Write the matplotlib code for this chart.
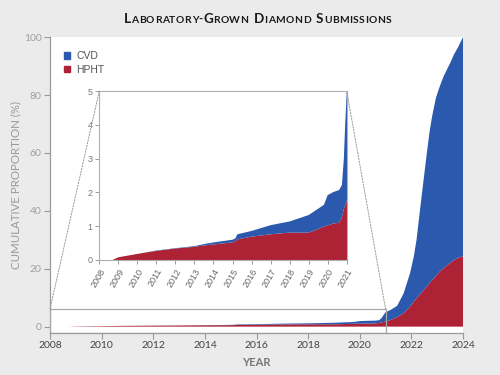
import matplotlib.pyplot as plt
from matplotlib.patches import Patch, Rectangle, ConnectionPatch
from matplotlib.offsetbox import TextArea, HPacker, AnchoredOffsetbox

# cumulative proportion (%)
years = [2008.0, 2008.7, 2009.0, 2010.0, 2011.0, 2012.0, 2013.0, 2013.5, 2014.0,
         2015.0, 2015.15, 2015.25, 2016.0, 2017.0, 2018.0, 2019.0, 2019.4, 2019.8,
         2020.0, 2020.3, 2020.6, 2020.75, 2020.85, 2020.92, 2021.0, 2021.2, 2021.45,
         2021.7, 2021.95, 2022.1, 2022.2, 2022.35, 2022.45, 2022.6, 2022.7, 2022.8,
         2022.95, 2023.1, 2023.25, 2023.5, 2023.65, 2023.82, 2024.0]
hpht = [0, 0, 0.08, 0.18, 0.27, 0.34, 0.39, 0.43, 0.46,
        0.52, 0.55, 0.61, 0.69, 0.76, 0.81, 0.81, 0.89, 0.99,
        1.02, 1.08, 1.10, 1.28, 1.50, 1.62, 1.73, 2.3, 3.3,
        4.6, 6.9, 8.7, 9.8, 11.3, 12.4, 13.8, 15.0, 16.0,
        17.5, 19.0, 20.2, 22.0, 23.0, 23.8, 24.3]
cvd = [0, 0, 0.0, 0.0, 0.01, 0.01, 0.02, 0.04, 0.06,
       0.08, 0.09, 0.15, 0.17, 0.27, 0.33, 0.52, 0.59, 0.64,
       0.90, 0.93, 0.97, 0.94, 1.50, 2.38, 3.22, 3.5, 3.9,
       6.9, 11.6, 15.8, 20.2, 30.2, 36.6, 46.2, 52.0, 56.5,
       61.5, 64.0, 66.3, 69.0, 71.0, 72.9, 75.7]
main_xticks = list(range(2008, 2025, 2))
main_yticks = [0, 20, 40, 60, 80, 100]
inset_xticks = list(range(2008, 2022))
inset_yticks = [0, 1, 2, 3, 4, 5]

blue = '#2a59ad'
red = '#ad2234'
grey = '#9a9a9a'

fig = plt.figure(figsize=(5, 3.75), dpi=100, facecolor='#ebebeb')
ax = fig.add_axes([0.1, 0.112, 0.826, 0.789])
ax.stackplot(years, hpht, cvd, colors=[red, blue], lw=0)
ax.set_xlim(2008, 2024)
ax.set_ylim(-2.2, 100)
ax.set_xticks(main_xticks)
ax.set_yticks(main_yticks)
ax.set_xticklabels([str(t) for t in main_xticks], fontsize=7.5, color='#444444', family='Lato')
ax.set_yticklabels([str(t) for t in main_yticks], fontsize=7.5, color='#a0a0a0', family='Lato')
ax.tick_params(length=4, width=0.8, color=grey, pad=2)
for s in ['top', 'right']:
    ax.spines[s].set_visible(False)
for s in ['left', 'bottom']:
    ax.spines[s].set_color(grey)
    ax.spines[s].set_linewidth(0.9)
ax.set_xlabel('YEAR', fontsize=8, color='#777777', family='Lato', fontweight='bold', labelpad=5)
ax.set_ylabel('CUMULATIVE PROPORTION (%)', fontsize=8.3, color='#999999', family='Lato', labelpad=2)

ax.add_patch(Rectangle((2008, -2.2), 13, 8.3, fill=False, ec='#a8a8a8', lw=0.9, zorder=3))

leg = ax.legend(handles=[Patch(color=blue, label='CVD'), Patch(color=red, label='HPHT')],
                loc='upper left', bbox_to_anchor=(0.01, 0.985), frameon=False,
                handlelength=0.6, handleheight=0.6, handletextpad=0.6, labelspacing=0.35,
                prop={'family': 'Liberation Sans', 'size': 7.5})
for t in leg.get_texts():
    t.set_color('#555555')

# inset zoom on 2008-2021
ins = fig.add_axes([0.1986, 0.3067, 0.4948, 0.4506])
ins.stackplot(years, hpht, cvd, colors=[red, blue], lw=0)
ins.set_xlim(2008, 2021)
ins.set_ylim(0, 5)
ins.set_xticks(inset_xticks)
ins.set_yticks(inset_yticks)
ins.set_xticklabels([str(t) for t in inset_xticks], rotation=60, ha='right',
                    rotation_mode='anchor', fontsize=6.5, color='#666666', family='Liberation Sans')
ins.set_yticklabels([str(t) for t in inset_yticks], fontsize=6.5, color='#777777', family='Liberation Sans')
ins.tick_params(length=3, width=0.7, color=grey, pad=2)
for s in ins.spines.values():
    s.set_color('#b0b0b0')
    s.set_linewidth(0.8)

for xa, xb in [((2008, 6.1), (0, 1)), ((2021, 6.1), (1, 1))]:
    con = ConnectionPatch(xyA=xa, coordsA=ax.transData, xyB=xb, coordsB=ins.transAxes,
                          ls=(0, (1.5, 1.5)), color='#999999', lw=0.7)
    fig.add_artist(con)

# small-caps title
parts = []
for word in ['Laboratory-Grown', 'Diamond', 'Submissions']:
    pieces = []
    first = True
    for ch in word:
        if first or ch == 'G' or not ch.isalpha():
            size = 9.7 if ch.isalpha() else 7.8
            pieces.append(TextArea(ch, textprops=dict(fontsize=size, fontweight='bold',
                                                      family='Lato', color='#1a1a1a')))
            first = False
        else:
            pieces.append(TextArea(ch.upper(), textprops=dict(fontsize=7.4, fontweight='bold',
                                                              family='Lato', color='#1a1a1a')))
    parts.append(HPacker(children=pieces, align='baseline', pad=0, sep=0.3))
title = HPacker(children=parts, align='baseline', pad=0, sep=4)
box = AnchoredOffsetbox(loc='center', child=title, frameon=False,
                        bbox_to_anchor=(0.515, 0.95), bbox_transform=fig.transFigure)
fig.add_artist(box)

fig.savefig('out.png', dpi=100, facecolor=fig.get_facecolor())
